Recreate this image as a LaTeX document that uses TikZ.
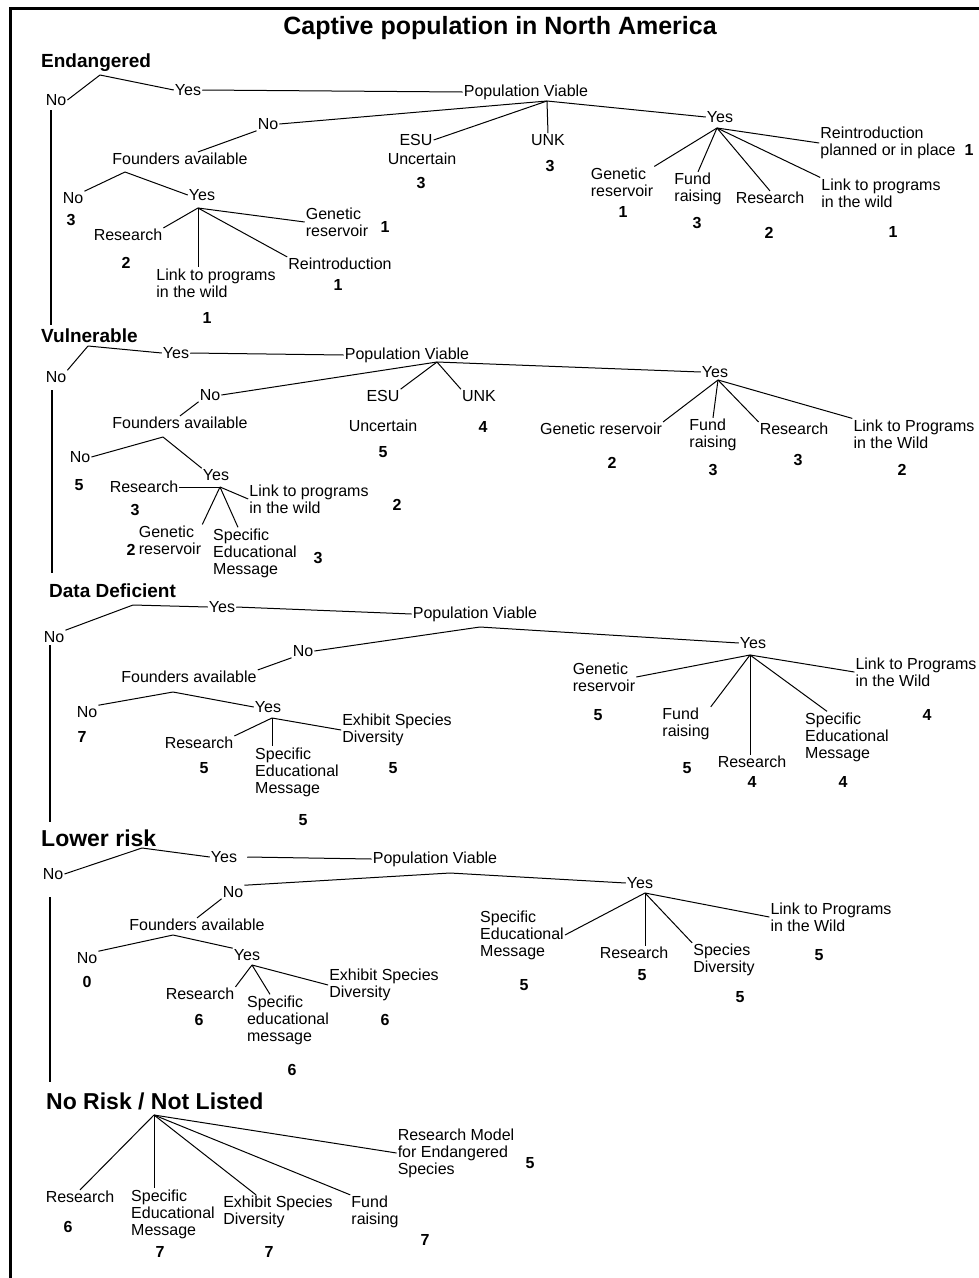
\documentclass[tikz,border=0pt]{standalone}
\usepackage{fontspec}
\setmainfont{Liberation Sans}
\usetikzlibrary{positioning}

\begin{document}
\begin{tikzpicture}[
    x=1pt, y=-1pt,
    lbl/.style={inner sep=1pt, align=left, font=\fontsize{16}{17}\selectfont},
    num/.style={inner sep=1pt, font=\fontsize{16}{17}\selectfont\bfseries},
    cat/.style={inner sep=1pt, anchor=west, font=\fontsize{19}{21}\selectfont\bfseries},
    bigcat/.style={inner sep=1pt, anchor=west, font=\fontsize{23}{25}\selectfont\bfseries},
    headline/.style={inner sep=1pt, font=\fontsize{25}{27}\selectfont\bfseries},
    link/.style={line width=1pt},
    spine/.style={line width=1.6pt},
    framebar/.style={line width=3pt}
]
\useasboundingbox (0,0) rectangle (978,1278);

% Frame
\coordinate (fr-bl) at (10,1290);
\coordinate (fr-tl) at (10,8);
\coordinate (fr-tr) at (990,8);
\draw[framebar] (fr-bl) -- (fr-tl) -- (fr-tr);

% Title
\node[headline] (title) at (500,28) {Captive population in North America};

% Endangered
\node[cat] (endg) at (40,63) {Endangered};
\coordinate (endg-b) at (100,75);
\node[lbl] (e-no) at (56,100) {No};
\node[lbl] (e-yes) at (188,90) {Yes};
\node[lbl] (e-pv) at (526,92) {Population Viable};
\draw[link] (endg-b) -- (e-no.east);
\draw[link] (endg-b) -- (e-yes.west);
\draw[link] (e-yes.east) -- (e-pv.west);

\coordinate (e-pvb) at (547,101);
\node[lbl] (e-pvno) at (268,124) {No};
\node[lbl] (e-esu) at (416,140) {ESU};
\node[lbl, below=5pt of e-esu, xshift=6pt] (e-unc) {Uncertain};
\node[num] (e-unc-n) at (421,183) {3};
\node[lbl] (e-unk) at (548,140) {UNK};
\node[num] (e-unk-n) at (550,166) {3};
\node[lbl] (e-pvyes) at (720,117) {Yes};
\draw[link] (e-pvb) -- (e-pvno.east);
\draw[link] (e-pvb) -- (e-esu.east);
\draw[link] (e-pvb) -- (e-unk.north);
\draw[link] (e-pvb) -- (e-pvyes.west);

\coordinate (e-yb) at (717,128);
\node[lbl] (e-gr) at (622,182) {Genetic\\reservoir};
\node[num] (e-gr-n) at (623,212) {1};
\node[lbl] (e-fund) at (698,189) {Fund\\raising};
\node[num] (e-fund-n) at (697,223) {3};
\node[lbl] (e-res) at (770,198) {Research};
\node[num] (e-res-n) at (769,233) {2};
\node[lbl] (e-link) at (881,193) {Link to programs\\in the wild};
\node[num] (e-link-n) at (893,232) {1};
\node[lbl] (e-reint) at (888,143) {Reintroduction\\planned or in place};
\node[num] (e-reint-n) at (969,150) {1};
\draw[link] (e-yb) -- (e-gr.north east);
\draw[link] (e-yb) -- (e-fund.north);
\draw[link] (e-yb) -- (e-res.north);
\draw[link] (e-yb) -- (e-link.north west);
\draw[link] (e-yb) -- (e-reint.west);

\node[lbl] (e-fa) at (180,159) {Founders available};
\draw[link] (e-pvno.south west) -- ([xshift=18pt]e-fa.north);
\coordinate (e-fab) at (125,172);
\node[lbl] (e-fano) at (73,198) {No};
\node[num] (e-fano-n) at (71,220) {3};
\node[lbl] (e-fayes) at (202,195) {Yes};
\draw[link] (e-fab) -- (e-fano.north east);
\draw[link] (e-fab) -- (e-fayes.west);

\coordinate (e-fyb) at (198,208);
\node[lbl] (e-fres) at (128,235) {Research};
\node[num] (e-fres-n) at (126,263) {2};
\node[lbl] (e-flink) at (216,283) {Link to programs\\in the wild};
\node[num] (e-flink-n) at (207,318) {1};
\node[lbl] (e-freint) at (340,264) {Reintroduction};
\node[num] (e-freint-n) at (338,285) {1};
\node[lbl] (e-fgr) at (337,222) {Genetic\\reservoir};
\node[num] (e-fgr-n) at (385,227) {1};
\draw[link] (e-fyb) -- (e-fres.north east);
\draw[link] (e-fyb) -- (e-fyb |- e-flink.north);
\draw[link] (e-fyb) -- (e-freint.north west);
\draw[link] (e-fyb) -- (e-fgr.west);

% Vulnerable
\node[cat] (vul) at (40,336) {Vulnerable};
\coordinate (vul-b) at (88,346);
\node[lbl] (v-no) at (56,377) {No};
\node[lbl] (v-yes) at (176,353) {Yes};
\node[lbl] (v-pv) at (407,355) {Population Viable};
\draw[link] (vul-b) -- (v-no.north east);
\draw[link] (vul-b) -- (v-yes.west);
\draw[link] (v-yes.east) -- (v-pv.west);

\coordinate (v-pvb) at (437,362);
\node[lbl] (v-pvno) at (210,395) {No};
\node[lbl] (v-esu) at (383,396) {ESU};
\node[lbl, below=16pt of v-esu] (v-unc) {Uncertain};
\node[num] (v-unc-n) at (383,452) {5};
\node[lbl] (v-unk) at (479,396) {UNK};
\node[num] (v-unk-n) at (483,427) {4};
\node[lbl] (v-pvyes) at (715,372) {Yes};
\draw[link] (v-pvb) -- (v-pvno.east);
\draw[link] (v-pvb) -- (v-esu.north east);
\draw[link] (v-pvb) -- (v-unk.north west);
\draw[link] (v-pvb) -- (v-pvyes.west);

\coordinate (v-yb) at (718,380);
\node[lbl] (v-gr) at (601,429) {Genetic reservoir};
\node[num] (v-gr-n) at (612,463) {2};
\node[lbl] (v-fund) at (713,435) {Fund\\raising};
\node[num] (v-fund-n) at (713,470) {3};
\node[lbl] (v-res) at (794,429) {Research};
\node[num] (v-res-n) at (798,460) {3};
\node[lbl] (v-link) at (914,434) {Link to Programs\\in the Wild};
\node[num] (v-link-n) at (902,470) {2};
\draw[link] (v-yb) -- (v-gr.north east);
\draw[link] (v-yb) -- (v-fund.north);
\draw[link] (v-yb) -- (v-res.north west);
\draw[link] (v-yb) -- (v-link.north west);

\node[lbl] (v-fa) at (180,423) {Founders available};
\draw[link] (v-pvno.south west) -- (v-fa.north);
\coordinate (v-fab) at (163,437);
\node[lbl] (v-fano) at (80,457) {No};
\node[num] (v-fano-n) at (79,485) {5};
\node[lbl] (v-fayes) at (216,475) {Yes};
\draw[link] (v-fab) -- (v-fano.east);
\draw[link] (v-fab) -- (v-fayes.north west);

\coordinate (v-fyb) at (220,487);
\node[lbl] (v-fres) at (144,487) {Research};
\node[num] (v-fres-n) at (135,510) {3};
\node[lbl] (v-flink) at (309,499) {Link to programs\\in the wild};
\node[num] (v-flink-n) at (397,505) {2};
\node[lbl] (v-fgr) at (170,540) {Genetic\\reservoir};
\node[num] (v-fgr-n) at (131,550) {2};
\node[lbl] (v-fspec) at (255,553) {Specific\\Educational\\Message};
\node[num] (v-fspec-n) at (318,558) {3};
\draw[link] (v-fyb) -- (v-fres.east);
\draw[link] (v-fyb) -- (v-flink.west);
\draw[link] (v-fyb) -- (v-fgr.north east);
\draw[link] (v-fyb) -- ([xshift=-17pt]v-fspec.north);

% Data Deficient
\node[cat] (dd) at (48,591) {Data Deficient};
\coordinate (dd-b) at (133,605);
\node[lbl] (d-no) at (54,637) {No};
\node[lbl] (d-yes) at (222,607) {Yes};
\node[lbl] (d-pv) at (475,614) {Population Viable};
\draw[link] (dd-b) -- (d-no.north east);
\draw[link] (dd-b) -- (d-yes.west);
\draw[link] (d-yes.east) -- (d-pv.west);

\coordinate (d-pvb) at (480,627);
\node[lbl] (d-pvno) at (303,651) {No};
\node[lbl] (d-pvyes) at (753,643) {Yes};
\draw[link] (d-pvb) -- (d-pvno.east);
\draw[link] (d-pvb) -- (d-pvyes.west);

\node[lbl] (d-fa) at (189,677) {Founders available};
\draw[link] (d-pvno.south west) -- (d-fa.north east);
\coordinate (d-fab) at (173,692);
\node[lbl] (d-fano) at (87,712) {No};
\node[num] (d-fano-n) at (82,737) {7};
\node[lbl] (d-fayes) at (268,707) {Yes};
\draw[link] (d-fab) -- (d-fano.north east);
\draw[link] (d-fab) -- (d-fayes.west);

\coordinate (d-fyb) at (272,718);
\node[lbl] (d-fres) at (199,743) {Research};
\node[num] (d-fres-n) at (204,768) {5};
\node[lbl] (d-fspec) at (297,772) {Specific\\Educational\\Message};
\node[num] (d-fspec-n) at (303,820) {5};
\node[lbl] (d-fexh) at (397,730) {Exhibit Species\\Diversity};
\node[num] (d-fexh-n) at (393,768) {5};
\draw[link] (d-fyb) -- (d-fres.north east);
\draw[link] (d-fyb) -- (d-fyb |- d-fspec.north);
\draw[link] (d-fyb) -- (d-fexh.west);

\coordinate (d-yb) at (750,655);
\node[lbl] (d-gr) at (604,677) {Genetic\\reservoir};
\node[num] (d-gr-n) at (598,715) {5};
\node[lbl] (d-fund) at (686,724) {Fund\\raising};
\node[num] (d-fund-n) at (687,768) {5};
\node[lbl] (d-res) at (752,762) {Research};
\node[num] (d-res-n) at (752,782) {4};
\node[lbl] (d-spec) at (847,737) {Specific\\Educational\\Message};
\node[num] (d-spec-n) at (843,782) {4};
\node[lbl] (d-link) at (916,672) {Link to Programs\\in the Wild};
\node[num] (d-link-n) at (927,715) {4};
\draw[link] (d-yb) -- (d-gr.east);
\draw[link] (d-yb) -- (d-fund.north east);
\draw[link] (d-yb) -- (d-yb |- d-res.north);
\draw[link] (d-yb) -- ([xshift=-20pt]d-spec.north);
\draw[link] (d-yb) -- (d-link.west);

% Lower risk
\node[bigcat] (lr) at (40,838) {Lower risk};
\coordinate (lr-b) at (142,848);
\node[lbl] (l-no) at (53,874) {No};
\node[lbl] (l-yes) at (224,857) {Yes};
\node[lbl] (l-pv) at (435,859) {Population Viable};
\draw[link] (lr-b) -- (l-no.east);
\draw[link] (lr-b) -- (l-yes.west);
\draw[link] ([xshift=9pt]l-yes.east) -- (l-pv.west);

\coordinate (l-pvb) at (450,873);
\node[lbl] (l-pvno) at (233,892) {No};
\node[lbl] (l-pvyes) at (640,883) {Yes};
\draw[link] (l-pvb) -- (l-pvno.north east);
\draw[link] (l-pvb) -- (l-pvyes.west);

\node[lbl] (l-fa) at (197,925) {Founders available};
\draw[link] (l-pvno.south west) -- (l-fa.north);
\coordinate (l-fab) at (173,935);
\node[lbl] (l-fano) at (87,958) {No};
\node[num] (l-fano-n) at (87,982) {0};
\node[lbl] (l-fayes) at (247,955) {Yes};
\draw[link] (l-fab) -- (l-fano.north east);
\draw[link] (l-fab) -- (l-fayes.north west);

\coordinate (l-fyb) at (252,965);
\node[lbl] (l-fres) at (200,994) {Research};
\node[num] (l-fres-n) at (199,1020) {6};
\node[lbl] (l-fspec) at (288,1020) {Specific\\educational\\message};
\node[num] (l-fspec-n) at (292,1070) {6};
\node[lbl] (l-fexh) at (384,985) {Exhibit Species\\Diversity};
\node[num] (l-fexh-n) at (385,1020) {6};
\draw[link] (l-fyb) -- (l-fres.north east);
\draw[link] (l-fyb) -- ([xshift=-18pt]l-fspec.north);
\draw[link] (l-fyb) -- (l-fexh.west);

\coordinate (l-yb) at (645,893);
\node[lbl] (l-spec) at (522,935) {Specific\\Educational\\Message};
\node[num] (l-spec-n) at (524,985) {5};
\node[lbl] (l-res) at (634,953) {Research};
\node[num] (l-res-n) at (642,975) {5};
\node[lbl] (l-spdiv) at (724,960) {Species\\Diversity};
\node[num] (l-spdiv-n) at (740,997) {5};
\node[lbl] (l-link) at (831,917) {Link to Programs\\in the Wild};
\node[num] (l-link-n) at (819,955) {5};
\draw[link] (l-yb) -- (l-spec.east);
\draw[link] (l-yb) -- (l-yb |- l-res.north);
\draw[link] (l-yb) -- (l-spdiv.north west);
\draw[link] (l-yb) -- (l-link.west);

% No Risk / Not Listed
\node[bigcat] (nr) at (45,1101) {No Risk / Not Listed};
\coordinate (nr-b) at (154,1115);
\node[lbl] (n-res) at (80,1197) {Research};
\node[num] (n-res-n) at (68,1227) {6};
\node[lbl] (n-spec) at (173,1214) {Specific\\Educational\\Message};
\node[num] (n-spec-n) at (160,1252) {7};
\node[lbl] (n-exh) at (278,1212) {Exhibit Species\\Diversity};
\node[num] (n-exh-n) at (269,1252) {7};
\node[lbl] (n-fund) at (375,1212) {Fund\\raising};
\node[num] (n-fund-n) at (425,1240) {7};
\node[lbl] (n-rmes) at (456,1153) {Research Model\\for Endangered\\Species};
\node[num] (n-rmes-n) at (530,1163) {5};
\draw[link] (nr-b) -- (n-res.north);
\draw[link] (nr-b) -- (nr-b |- n-spec.north);
\draw[link] (nr-b) -- ([xshift=-22pt]n-exh.north);
\draw[link] (nr-b) -- (n-fund.north west);
\draw[link] (nr-b) -- (n-rmes.west);

% Spine
\coordinate (sp1a) at (51,110);
\coordinate (sp1b) at (51,325);
\coordinate (sp2a) at (52,390);
\coordinate (sp2b) at (52,573);
\coordinate (sp3a) at (50,645);
\coordinate (sp3b) at (50,822);
\coordinate (sp4a) at (50,897);
\coordinate (sp4b) at (50,1082);
\draw[spine] (sp1a) -- (sp1b);
\draw[spine] (sp2a) -- (sp2b);
\draw[spine] (sp3a) -- (sp3b);
\draw[spine] (sp4a) -- (sp4b);

\end{tikzpicture}
\end{document}
